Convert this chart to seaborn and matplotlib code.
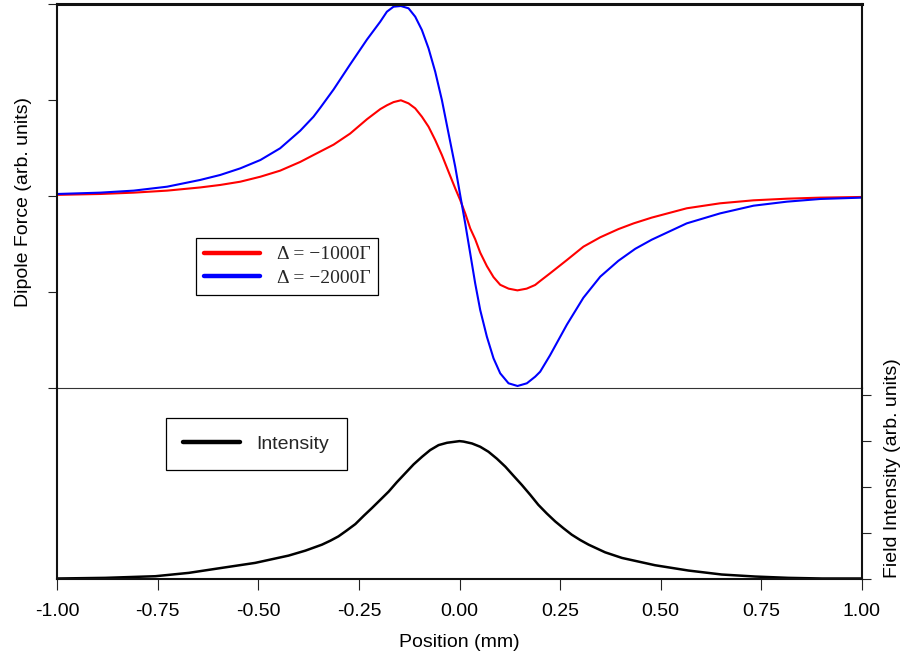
import matplotlib
matplotlib.use("Agg")
import matplotlib.pyplot as plt
from matplotlib.ticker import FormatStrFormatter
import pandas as pd
import seaborn as sns

# Dipole force across the beam for two detunings (arb. units)
pos_red = [-1.0, -0.893, -0.81, -0.727, -0.645, -0.595, -0.545, -0.495, -0.446,
           -0.396, -0.363, -0.35, -0.313, -0.272, -0.23, -0.197, -0.1805, -0.164,
           -0.1457, -0.1267, -0.1101, -0.0935, -0.077, -0.0604, -0.0438, -0.0273,
           -0.0107, 0.0017, 0.015, 0.0266, 0.039, 0.0515, 0.068, 0.0846, 0.1012,
           0.122, 0.144, 0.167, 0.188, 0.2006, 0.225, 0.267, 0.308, 0.35, 0.395,
           0.433, 0.478, 0.565, 0.648, 0.731, 0.814, 0.897, 1.0]
force_red = [0.012, 0.021, 0.035, 0.056, 0.089, 0.115, 0.149, 0.201, 0.264,
             0.355, 0.427, 0.455, 0.535, 0.65, 0.8, 0.905, 0.945, 0.978,
             0.997, 0.965, 0.913, 0.826, 0.722, 0.583, 0.427, 0.253,
             0.08, -0.042, -0.19, -0.337, -0.45, -0.59, -0.73, -0.845, -0.925,
             -0.965, -0.983, -0.965, -0.927, -0.885, -0.806, -0.667, -0.528, -0.43, -0.345,
             -0.285, -0.225, -0.128, -0.076, -0.045, -0.028, -0.017, -0.01]

pos_blue = [-1.0, -0.893, -0.81, -0.727, -0.645, -0.595, -0.545, -0.495, -0.446,
            -0.396, -0.363, -0.346, -0.313, -0.272, -0.23, -0.197, -0.1805, -0.164,
            -0.1457, -0.1267, -0.1101, -0.0935, -0.077, -0.0604, -0.0438, -0.0273,
            -0.0107, 0.0017, 0.0142, 0.0266, 0.039, 0.0515, 0.068, 0.0846, 0.1012,
            0.1219, 0.1443, 0.1675, 0.1882, 0.2006, 0.225, 0.267, 0.308, 0.35, 0.395,
            0.437, 0.478, 0.565, 0.648, 0.731, 0.814, 0.897, 1.0]
force_blue = [0.021, 0.035, 0.056, 0.097, 0.167, 0.219, 0.288, 0.375, 0.497,
              0.68, 0.826, 0.92, 1.11, 1.37, 1.63, 1.816, 1.92, 1.972,
              1.979, 1.955, 1.868, 1.729, 1.538, 1.295, 1.0, 0.653,
              0.306, 0.01, -0.285, -0.597, -0.91, -1.1875, -1.465, -1.691, -1.847,
              -1.951, -1.979, -1.951, -1.882, -1.83, -1.66, -1.34, -1.06, -0.84, -0.675,
              -0.55, -0.455, -0.285, -0.181, -0.101, -0.059, -0.031, -0.017]

# Field intensity profile (arb. units)
pos_intensity = [-1.0, -0.881, -0.756, -0.673, -0.591, -0.508, -0.425, -0.383, -0.342,
                 -0.321, -0.301, -0.28, -0.259, -0.238, -0.218, -0.197, -0.176, -0.156,
                 -0.135, -0.114, -0.093, -0.073, -0.052, -0.031, 0.0, 0.01, 0.031,
                 0.0515, 0.072, 0.093, 0.114, 0.134, 0.155, 0.176, 0.196, 0.217,
                 0.238, 0.259, 0.279, 0.3, 0.321, 0.362, 0.404, 0.486, 0.569, 0.652,
                 0.735, 0.818, 0.901, 1.0]
intensity = [0.0, 0.014, 0.05, 0.123, 0.232, 0.341, 0.5, 0.609, 0.739,
             0.826, 0.92, 1.051, 1.188, 1.37, 1.536, 1.717, 1.899, 2.101,
             2.297, 2.493, 2.659, 2.804, 2.913, 2.964, 3.0, 2.99, 2.949,
             2.877, 2.768, 2.616, 2.442, 2.246, 2.043, 1.826, 1.609, 1.42,
             1.246, 1.094, 0.957, 0.841, 0.739, 0.572, 0.449, 0.29, 0.174, 0.087,
             0.043, 0.014, 0.0, 0.0]

x_ticks = [-1.0, -0.75, -0.5, -0.25, 0.0, 0.25, 0.5, 0.75, 1.0]
force_ticks = [-2, -1, 0, 1, 2]
intensity_ticks = [0, 1, 2, 3, 4]

label_red = "\u0394 = \u22121000\u0393"
label_blue = "\u0394 = \u22122000\u0393"
label_intensity = "Intensity"

sns.set_theme(style="ticks")
plt.rcParams["font.family"] = ["Liberation Sans", "DejaVu Sans"]
plt.rcParams["axes.unicode_minus"] = False

W, H = 902, 656
fig = plt.figure(figsize=(W / 100, H / 100), dpi=100)
fig.patch.set_facecolor("white")
ax_f = fig.add_axes([57.3 / W, (H - 388) / H, 804.4 / W, 384 / H])
ax_i = fig.add_axes([57.3 / W, (H - 578.5) / H, 804.4 / W, 190.5 / H], sharex=ax_f)
ax_i.patch.set_visible(False)

force_df = pd.concat([
    pd.DataFrame({"position": pos_red, "force": force_red, "detuning": label_red}),
    pd.DataFrame({"position": pos_blue, "force": force_blue, "detuning": label_blue}),
], ignore_index=True)
sns.lineplot(data=force_df, x="position", y="force", hue="detuning",
             hue_order=[label_red, label_blue],
             palette={label_red: "#ff0000", label_blue: "#0000ff"},
             estimator=None, linewidth=1.5, legend=False, ax=ax_f)

int_df = pd.DataFrame({"position": pos_intensity, "intensity": intensity})
sns.lineplot(data=int_df, x="position", y="intensity", color="black",
             estimator=None, linewidth=1.8, ax=ax_i)

ax_f.set_xlim(-1.0, 1.0)
ax_f.set_ylim(-2.0, 2.0)
ax_i.set_ylim(0.0, 4.16)

for ax in (ax_f, ax_i):
    for s in ax.spines.values():
        s.set_color("#111111")
        s.set_linewidth(1.5)
ax_f.spines["top"].set_linewidth(2.2)
ax_f.spines["bottom"].set_linewidth(0.8)
ax_f.spines["bottom"].set_color("#333333")
ax_i.spines["top"].set_visible(False)

# force panel: unlabeled ticks on the left only
ax_f.set_yticks(force_ticks)
ax_f.tick_params(axis="y", left=True, right=False, labelleft=False,
                 direction="out", length=6.5, width=0.8, color="#222222")
ax_f.tick_params(axis="x", bottom=False, top=False, labelbottom=False)
ax_f.set_xlabel("")
ax_f.set_ylabel("Dipole Force (arb. units)", fontsize=14, color="black")
ax_f.yaxis.set_label_coords(-0.0315, 0.484)

# intensity panel: unlabeled ticks on the right, position axis below
ax_i.yaxis.tick_right()
ax_i.set_yticks(intensity_ticks)
ax_i.tick_params(axis="y", right=True, left=False, labelright=False, labelleft=False,
                 direction="out", length=6.5, width=0.8, color="#222222")
ax_i.set_xticks(x_ticks)
ax_i.xaxis.set_major_formatter(FormatStrFormatter("%.2f"))
ax_i.tick_params(axis="x", bottom=True, direction="out", length=8, width=0.8,
                 pad=9.5, labelsize=14, color="#222222", labelcolor="black")
ax_i.set_xlabel("Position (mm)", fontsize=14, color="black")
ax_i.xaxis.set_label_coords(0.5, -0.292)
ax_i.yaxis.set_label_position("right")
ax_i.set_ylabel("Field Intensity (arb. units)", fontsize=14, color="black")
ax_i.yaxis.set_label_coords(1.0276, 0.577)

leg1 = ax_f.legend(ax_f.lines[:2], [label_red, label_blue], loc="upper left",
                   bbox_to_anchor=(0.1724, 0.3906), borderaxespad=0, frameon=True,
                   fancybox=False, framealpha=1, edgecolor="black",
                   prop={"family": "Liberation Serif", "size": 14},
                   handlelength=2.9, handletextpad=0.86, borderpad=0.4,
                   labelspacing=0.3)
leg1.get_frame().set_linewidth(0.9)
for h in leg1.legend_handles:
    h.set_linewidth(3.2)

leg2 = ax_i.legend(ax_i.lines[:1], [label_intensity], loc="upper left",
                   bbox_to_anchor=(0.1351, 0.8441), borderaxespad=0, frameon=True,
                   fancybox=False, framealpha=1, edgecolor="black", fontsize=14,
                   handlelength=2.9, handletextpad=0.86, borderpad=0.9)
leg2.get_frame().set_linewidth(0.9)
for h in leg2.legend_handles:
    h.set_linewidth(3.2)

fig.savefig("out.png", dpi=100, facecolor="white")
